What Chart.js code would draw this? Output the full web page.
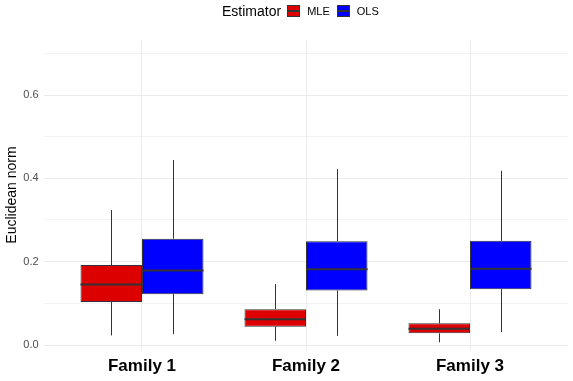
<!DOCTYPE html>
<html>
<head>
<meta charset="utf-8">
<script src="https://cdn.jsdelivr.net/npm/chart.js@4.4.1/dist/chart.umd.min.js"></script>
<style>
  body { margin: 0; background: #fff; font-family: "Liberation Sans", Arial, sans-serif; }
  #wrap { position: relative; width: 573px; height: 381px; }
  #legend { position: absolute; top: 2px; left: 222px; height: 18px; display: flex; align-items: center; color: #000; white-space: nowrap; }
  #legend .title { font-size: 14px; margin-right: 6px; }
  #legend .key { position: relative; width: 13px; height: 12px; border: 1px solid #333; box-sizing: border-box; margin-right: 7px; }
  #legend .key::after { content: ""; position: absolute; left: 0; right: 0; top: 4px; height: 1.5px; background: #333; }
  #legend .lab { font-size: 11px; margin-right: 7px; }
</style>
</head>
<body>
<div id="wrap">
  <canvas id="chart" width="573" height="381"></canvas>
  <div id="legend">
    <span class="title">Estimator</span>
    <span class="key" style="background:#DD0000"></span><span class="lab">MLE</span>
    <span class="key" style="background:#0000FF"></span><span class="lab">OLS</span>
  </div>
</div>
<script>
// box statistics
const categories = ['Family 1', 'Family 2', 'Family 3'];

const mleMin = [0.023, 0.010, 0.0065];
const mleQ1  = [0.103, 0.044, 0.028];
const mleMed = [0.145, 0.062, 0.039];
const mleQ3  = [0.192, 0.086, 0.052];
const mleMax = [0.324, 0.146, 0.086];

const olsMin = [0.026, 0.022, 0.031];
const olsQ1  = [0.122, 0.131, 0.134];
const olsMed = [0.179, 0.182, 0.183];
const olsQ3  = [0.255, 0.249, 0.250];
const olsMax = [0.444, 0.422, 0.418];

const yTicks = [0, 0.1, 0.2, 0.3, 0.4, 0.5, 0.6, 0.7];

function boxes(q1, q3) {
  return categories.map((c, i) => ({ x: i, y: [q1[i], q3[i]] }));
}

const stats = [
  { min: mleMin, med: mleMed, max: mleMax, q1: mleQ1, q3: mleQ3 },
  { min: olsMin, med: olsMed, max: olsMax, q1: olsQ1, q3: olsQ3 }
];

// whiskers under the boxes, medians on top
const boxPlugin = {
  id: 'boxParts',
  beforeDatasetsDraw(chart) {
    const ctx = chart.ctx, y = chart.scales.y;
    ctx.save();
    ctx.strokeStyle = '#333333';
    ctx.lineWidth = 1;
    chart.data.datasets.forEach((ds, d) => {
      const s = stats[d];
      chart.getDatasetMeta(d).data.forEach((bar, i) => {
        const x = Math.round(bar.x) + 0.5;
        ctx.beginPath();
        ctx.moveTo(x, y.getPixelForValue(s.max[i]));
        ctx.lineTo(x, y.getPixelForValue(s.q3[i]));
        ctx.moveTo(x, y.getPixelForValue(s.q1[i]));
        ctx.lineTo(x, y.getPixelForValue(s.min[i]));
        ctx.stroke();
      });
    });
    ctx.restore();
  },
  afterDatasetsDraw(chart) {
    const ctx = chart.ctx, y = chart.scales.y;
    ctx.save();
    ctx.strokeStyle = '#333333';
    ctx.lineWidth = 2;
    chart.data.datasets.forEach((ds, d) => {
      const s = stats[d];
      chart.getDatasetMeta(d).data.forEach((bar, i) => {
        const py = y.getPixelForValue(s.med[i]);
        ctx.beginPath();
        ctx.moveTo(bar.x - bar.width / 2, py);
        ctx.lineTo(bar.x + bar.width / 2, py);
        ctx.stroke();
      });
    });
    ctx.restore();
  }
};

new Chart(document.getElementById('chart').getContext('2d'), {
  type: 'bar',
  data: {
    datasets: [{
      label: 'MLE',
      data: boxes(mleQ1, mleQ3),
      backgroundColor: '#DD0000',
      borderColor: '#333333',
      borderWidth: 1,
      borderSkipped: false
    }, {
      label: 'OLS',
      data: boxes(olsQ1, olsQ3),
      backgroundColor: '#0000FF',
      borderColor: '#333333',
      borderWidth: 1,
      borderSkipped: false
    }]
  },
  options: {
    responsive: false,
    animation: false,
    categoryPercentage: 0.75,
    barPercentage: 1,
    layout: { padding: { top: 40, right: 4.6, left: 0, bottom: 0 } },
    plugins: { legend: { display: false }, tooltip: { enabled: false } },
    scales: {
      x: {
        type: 'linear',
        offset: false,
        min: -0.6,
        max: 2.6,
        afterBuildTicks: s => { s.ticks = categories.map((c, i) => ({ value: i })); },
        afterFit: s => { s.height = 31; },
        border: { display: false },
        grid: { color: '#EBEBEB', lineWidth: 1, drawTicks: false, offset: false },
        ticks: {
          padding: 6,
          color: '#000',
          font: { family: '"Liberation Sans", Arial, sans-serif', size: 17, weight: 'bold' },
          callback: v => categories[v]
        }
      },
      y: {
        min: -0.012,
        max: 0.732,
        afterBuildTicks: s => { s.ticks = yTicks.map(v => ({ value: v })); },
        afterFit: s => { s.width = 43.6; },
        border: { display: false },
        grid: {
          drawTicks: false,
          color: '#EBEBEB',
          lineWidth: ctx => (Math.round(ctx.tick.value * 10) % 2 === 0 ? 1 : 0.6)
        },
        ticks: {
          padding: 5,
          color: '#4D4D4D',
          font: { family: '"Liberation Sans", Arial, sans-serif', size: 11 },
          callback: v => (Math.round(v * 10) % 2 === 0 ? v.toFixed(1) : '')
        },
        title: {
          display: true,
          text: 'Euclidean norm',
          color: '#000',
          padding: { top: 4, bottom: 0 },
          font: { family: '"Liberation Sans", Arial, sans-serif', size: 14 }
        }
      }
    }
  },
  plugins: [boxPlugin]
});
</script>
</body>
</html>
